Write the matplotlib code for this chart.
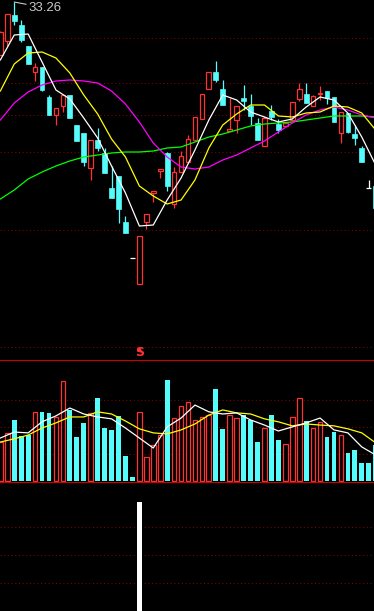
import matplotlib
matplotlib.use("Agg")
import matplotlib.pyplot as plt
import numpy as np
from matplotlib.patches import Rectangle

# daily candles (price)
opens = [31.67, 32.09, 32.87, 32.57, 31.94, 31.16, 31.31, 30.41, 29.87, 30.14,
         30.47, 29.57, 29.33, 28.28, 29.12, 28.73, 27.68, 28.04, 26.66, 25.58,
         24.80, 26.66, 27.53, 28.19, 28.73, 27.20, 28.16, 28.46, 29.12, 29.75,
         30.65, 31.16, 30.65, 29.39, 29.72, 30.38, 30.14, 29.63, 28.94, 29.99,
         29.60, 29.54, 29.72, 30.35, 30.50, 30.14, 30.50, 30.59, 30.41, 29.33,
         29.93, 29.30, 28.88, 27.68, 27.74]
closes = [32.36, 32.90, 32.69, 32.12, 31.40, 31.31, 30.62, 29.87, 30.08, 30.47,
          29.78, 29.09, 28.46, 29.12, 28.88, 28.13, 27.38, 27.05, 26.33, 25.58,
          26.24, 26.90, 27.59, 28.25, 27.74, 28.16, 28.64, 29.15, 29.81, 30.50,
          31.16, 30.92, 30.17, 29.45, 30.14, 30.29, 29.84, 29.12, 29.78, 29.81,
          29.42, 29.63, 30.26, 30.65, 30.23, 30.44, 30.53, 30.38, 29.66, 29.96,
          29.36, 29.18, 28.46, 27.68, 27.08]
highs = [32.39, 32.90, 33.26, 32.72, 31.94, 31.43, 31.31, 30.47, 30.08, 30.47,
         30.47, 29.57, 29.33, 29.12, 29.48, 28.88, 28.34, 28.04, 26.84, 25.58,
         26.24, 26.90, 27.59, 28.25, 28.76, 28.31, 28.79, 29.27, 29.81, 30.50,
         31.16, 31.49, 30.92, 30.38, 30.14, 30.77, 30.50, 29.78, 29.84, 30.17,
         29.75, 29.66, 30.26, 30.83, 30.83, 30.47, 30.74, 30.59, 30.41, 29.96,
         29.93, 29.57, 28.94, 27.92, 27.74]
lows = [31.67, 31.94, 32.57, 32.06, 31.40, 30.89, 30.59, 29.87, 29.57, 29.96,
        29.78, 29.09, 28.34, 27.92, 28.79, 28.13, 27.38, 26.63, 26.33, 25.58,
        24.80, 26.45, 27.26, 27.98, 27.59, 27.08, 28.16, 28.46, 29.12, 29.75,
        30.65, 30.86, 30.17, 29.39, 29.33, 30.02, 29.57, 29.12, 28.94, 29.72,
        29.33, 29.51, 29.72, 30.29, 30.23, 30.14, 30.32, 30.20, 29.66, 29.03,
        29.33, 28.97, 28.46, 27.68, 27.08]

# volume (10k lots)
volume = [1.44, 1.78, 2.26, 1.67, 1.70, 2.56, 2.56, 2.52, 2.37, 3.70,
          2.63, 1.63, 2.15, 2.52, 3.07, 1.96, 1.89, 2.41, 0.93, 0.15,
          2.56, 0.89, 1.33, 1.70, 3.74, 2.33, 2.78, 2.93, 2.26, 2.37,
          2.44, 3.41, 1.93, 2.44, 2.33, 2.44, 2.26, 1.44, 1.96, 2.44,
          1.52, 1.37, 2.37, 3.07, 2.22, 1.96, 2.19, 1.63, 1.81, 1.70,
          1.04, 1.15, 0.67, 0.67, 1.33]

# moving averages read every second bar
ma_x = list(range(0, 55, 2))
ma5 = [31.52, 32.27, 32.30, 31.46, 30.62, 30.35, 29.78, 29.18, 28.34, 27.53,
       26.54, 26.57, 27.32, 27.98, 28.82, 29.72, 30.47, 30.32, 29.96, 29.81,
       29.66, 29.75, 30.11, 30.41, 30.32, 29.93, 29.21, 28.37]
ma10 = [30.59, 31.40, 31.73, 31.76, 31.58, 31.13, 30.47, 29.90, 29.15, 28.61,
        27.74, 27.44, 27.20, 27.32, 27.92, 28.88, 29.57, 29.90, 30.17, 30.17,
        29.84, 29.81, 29.93, 29.96, 30.14, 30.11, 29.93, 29.42]
ma20 = [29.72, 30.23, 30.56, 30.77, 30.89, 30.92, 30.89, 30.83, 30.59, 30.20,
        29.66, 29.03, 28.61, 28.31, 28.25, 28.31, 28.52, 28.67, 28.88, 29.09,
        29.36, 29.63, 29.87, 30.02, 30.11, 30.02, 29.87, 29.78]
ma60 = [27.35, 27.62, 27.95, 28.16, 28.34, 28.49, 28.61, 28.67, 28.73, 28.76,
        28.76, 28.79, 28.88, 28.91, 29.06, 29.21, 29.30, 29.42, 29.54, 29.60,
        29.63, 29.66, 29.72, 29.78, 29.84, 29.84, 29.84, 29.81]
vol_ma5 = [1.59, 1.81, 1.78, 2.19, 2.41, 2.70, 2.48, 2.37, 2.30, 1.96,
           1.59, 1.22, 2.00, 2.33, 2.81, 2.56, 2.48, 2.52, 2.26, 2.07,
           1.85, 2.00, 2.15, 2.33, 1.89, 1.78, 1.26, 0.96]
vol_ma10 = [1.44, 1.56, 1.70, 1.96, 2.15, 2.37, 2.37, 2.56, 2.48, 2.22,
            1.93, 1.78, 1.74, 1.89, 2.11, 2.44, 2.63, 2.52, 2.48, 2.30,
            2.19, 2.04, 2.11, 2.07, 2.04, 1.93, 1.78, 1.41]

# lower indicator, single signal bar
signal = [0.0] * 55
signal[20] = 3.89
signal_day = 20

price_grid = [32.18, 30.83, 29.87, 28.76, 26.42, 22.91]
vol_grid = [1, 2, 3]
sig_grid = [1, 2, 3]

RED = "#ff3232"
CYAN = "#54fcfc"
SEP = "#c80000"
GRID = "#8c0000"
W = 0.68

fig = plt.figure(figsize=(3.74, 6.11), dpi=100, facecolor="black")
ax = fig.add_axes([0, 251 / 611, 1, 360 / 611])
axv = fig.add_axes([0, 129 / 611, 1, 122 / 611])
axs = fig.add_axes([0, 0, 1, 129 / 611])

for a in (ax, axv, axs):
    a.set_facecolor("black")
    a.set_xlim(-0.05, 53.76)
    a.set_xticks([])
    a.set_yticks([])
    for s in a.spines.values():
        s.set_visible(False)

ax.set_ylim(22.52, 33.32)
axv.set_ylim(-0.04, 4.48)
axs.set_ylim(0, 4.607)
axv.spines["top"].set_visible(True)
axv.spines["top"].set_color(SEP)
axs.spines["top"].set_visible(True)
axs.spines["top"].set_color(SEP)

dots = (0, (1, 2.7))
for g in price_grid:
    ax.axhline(g, color=GRID, lw=0.72, ls=dots, zorder=0)
for g in vol_grid:
    axv.axhline(g, color=GRID, lw=0.72, ls=dots, zorder=0)
for g in sig_grid:
    axs.axhline(g, color=GRID, lw=0.72, ls=dots, zorder=0)

# candles
for i in range(len(opens)):
    o, c, h, l = opens[i], closes[i], highs[i], lows[i]
    if c > o:
        ax.add_patch(Rectangle((i - W / 2, o), W, c - o, fc="black", ec=RED, lw=0.9, zorder=3))
        ax.vlines(i, c, h, color=RED, lw=0.9, zorder=3)
        ax.vlines(i, l, o, color=RED, lw=0.9, zorder=3)
    elif c < o:
        ax.vlines(i, l, h, color=CYAN, lw=0.9, zorder=3)
        ax.add_patch(Rectangle((i - W / 2, c), W, o - c, fc=CYAN, ec=CYAN, lw=0.5, zorder=3))
    else:
        ax.hlines(o, i - W / 2, i + W / 2, color="white", lw=0.9, zorder=3)
        ax.vlines(i, l, h, color="white", lw=0.9, zorder=3)

ax.plot(ma_x, ma60, color="#00ff00", lw=0.9, zorder=4)
ax.plot(ma_x, ma20, color="#ff00ff", lw=0.9, zorder=4)
ax.plot(ma_x, ma10, color="#ffff00", lw=0.9, zorder=4)
ax.plot(ma_x, ma5, color="white", lw=0.9, zorder=4)

top = int(np.argmax(highs))
ax.annotate("%.2f" % highs[top], xy=(top, highs[top]), xytext=(4.1, 33.08),
            color="#c8c8c8", fontsize=9.5, family="Liberation Sans",
            va="center", ha="left",
            arrowprops=dict(arrowstyle="-", color="#c8c8c8", lw=0.8,
                            shrinkA=0, shrinkB=0))

# sell signal mark above the volume panel
ax.text(signal_day, 22.55, "S", color=RED, fontsize=9, fontweight="bold",
        ha="center", va="bottom", zorder=5)
ax.plot([signal_day], [22.84], marker="^", color=RED, ms=2.5, zorder=5)

# volume
xs = np.arange(len(volume))
up = np.array(closes) > np.array(opens)
axv.bar(xs[up], np.array(volume)[up], width=W, facecolor="black", edgecolor=RED, lw=0.9, zorder=3)
axv.bar(xs[~up], np.array(volume)[~up], width=W, color=CYAN, lw=0, zorder=3)
axv.plot(ma_x, vol_ma10, color="#ffff00", lw=0.9, zorder=4)
axv.plot(ma_x, vol_ma5, color="white", lw=0.9, zorder=4)

axs.bar(xs, signal, width=0.72, color="white", lw=0, zorder=3)

fig.savefig("out.png", dpi=100, facecolor="black")
